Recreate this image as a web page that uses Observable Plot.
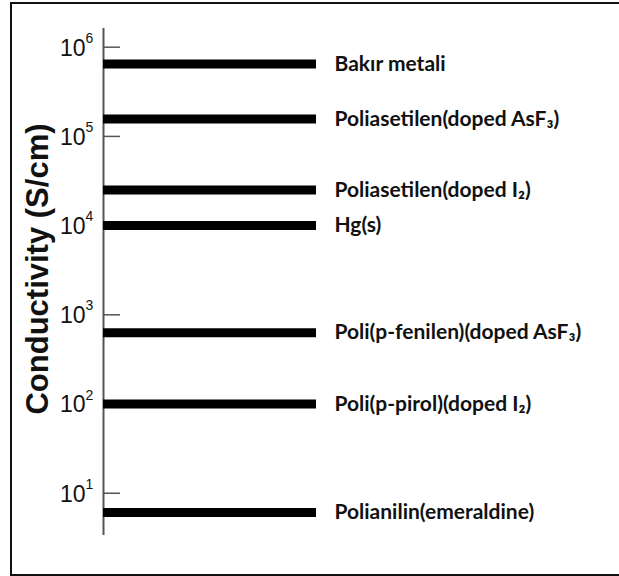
<!DOCTYPE html>
<html><head><meta charset="utf-8">
<script src="https://cdn.jsdelivr.net/npm/d3@7"></script>
<script src="https://cdn.jsdelivr.net/npm/@observablehq/plot@0.6"></script>
<style>
body{margin:0;background:#fff;}
#wrap{position:relative;width:619px;height:576px;overflow:hidden;background:#fff;}
#wrap svg{position:absolute;left:0;top:0;}
#border{position:absolute;left:10px;top:2px;width:700px;height:570px;border:2px solid #111;pointer-events:none;}
</style></head><body><div id="wrap"><div id="border"></div></div>
<script>
const materials = ["Bakır metali","Poliasetilen(doped AsF₃)","Poliasetilen(doped I₂)","Hg(s)","Poli(p-fenilen)(doped AsF₃)","Poli(p-pirol)(doped I₂)","Polianilin(emeraldine)"];
const conductivity = [6.5e5, 1.57e5, 2.5e4, 1.0e4, 630, 100, 6.1];
const tickExponents = [1, 2, 3, 4, 5, 6];
const tickBase = "10";
const yDomain = [3.36, 1.62e6];
const yLabel = "Conductivity (S/cm)";

const rows = materials.map((name, i) => ({name, value: conductivity[i]}));
const ticks = tickExponents.map(e => ({e, v: 10 ** e}));

const chart = Plot.plot({
  width: 619, height: 576,
  marginTop: 28, marginBottom: 41, marginLeft: 103, marginRight: 303,
  style: {fontFamily: "'Liberation Sans', Arial, sans-serif", background: "transparent"},
  x: {domain: [0, 1], axis: null},
  y: {type: "log", domain: yDomain, axis: null},
  marks: [
    Plot.axisY(ticks.map(d => d.v), {anchor: "left", tickSize: 17, dx: 17, tickFormat: () => "", stroke: "#555", strokeWidth: 1.5}),
    Plot.ruleX([0], {stroke: "#555", strokeWidth: 2}),
    Plot.ruleY(rows, {y: "value", stroke: "#000", strokeWidth: 9}),
    Plot.text(rows, {y: "value", text: "name", frameAnchor: "right", textAnchor: "start", dx: 18,
      fontFamily: "Lato", fontWeight: "bold", fontSize: 21, fill: "#111"}),
    Plot.text(ticks, {y: "v", text: () => tickBase, frameAnchor: "left", textAnchor: "end", dx: -18, dy: 1,
      fontSize: 23, fill: "#111"}),
    Plot.text(ticks, {y: "v", text: d => String(d.e), frameAnchor: "left", textAnchor: "start", dx: -18, dy: -9,
      fontSize: 14, fill: "#111"}),
    Plot.text([yLabel], {text: d => d, frameAnchor: "left", textAnchor: "middle", rotate: -90, dx: -65, dy: -13,
      fontSize: 31, fontWeight: "bold", fill: "#111"})
  ]
});
document.getElementById("wrap").prepend(chart);
</script>
</body></html>
